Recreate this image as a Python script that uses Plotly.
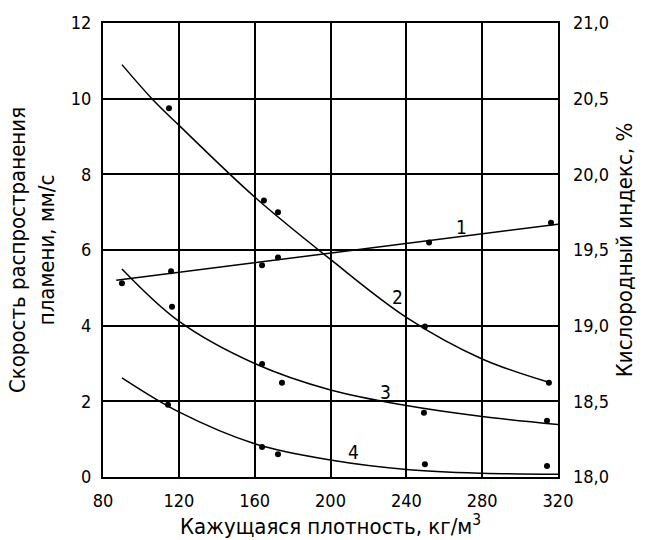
import plotly.graph_objects as go

# ---- data ----
# curve 1: oxygen index (right axis, %)
c1_pts_x = [90, 115.9, 163.9, 172.3, 252, 316.3]
c1_pts_y = [19.28, 19.36, 19.40, 19.45, 19.55, 19.68]
c1_fit_x = [87, 320]
c1_fit_y = [19.30, 19.67]

# curves 2-4: flame spread rate (left axis, mm/s)
c2_pts_x = [114.8, 164.9, 172.3, 249.8, 315.2]
c2_pts_y = [9.75, 7.31, 7.0, 3.98, 2.49]
c2_fit_x = [90, 105.8, 120, 160, 200, 240, 280, 316]
c2_fit_y = [10.9, 10.0, 9.3, 7.4, 5.75, 4.22, 3.12, 2.49]

c3_pts_x = [116.4, 163.9, 174.4, 249.3, 314.2]
c3_pts_y = [4.5, 2.99, 2.49, 1.70, 1.49]
c3_fit_x = [90, 120, 160, 200, 240, 280, 320]
c3_fit_y = [5.5, 4.12, 3.0, 2.3, 1.89, 1.6, 1.39]

c4_pts_x = [114.3, 163.9, 172.3, 249.8, 314.2]
c4_pts_y = [1.91, 0.79, 0.6, 0.34, 0.29]
c4_fit_x = [90, 120, 160, 200, 240, 280, 320]
c4_fit_y = [2.62, 1.72, 0.88, 0.45, 0.2, 0.1, 0.07]

labels = ["1", "2", "3", "4"]
label_x = [269, 235.6, 229, 212]
label_y = [6.6, 4.77, 2.25, 0.66]

x_ticks = [80, 120, 160, 200, 240, 280, 320]
y_ticks = [0, 2, 4, 6, 8, 10, 12]
y2_ticks = [18.0, 18.5, 19.0, 19.5, 20.0, 20.5, 21.0]
y2_ticktext = ["18,0", "18,5", "19,0", "19,5", "20,0", "20,5", "21,0"]

FONT = "DejaVu Sans Condensed, Liberation Sans Narrow, DejaVu Sans, sans-serif"

fig = go.Figure()
line_style = dict(color="black", width=1.5)
mark_style = dict(color="black", size=6)

# curve 1 on right axis
fig.add_trace(go.Scatter(x=c1_fit_x, y=c1_fit_y, mode="lines", line=line_style,
                         yaxis="y2", showlegend=False, hoverinfo="skip"))
fig.add_trace(go.Scatter(x=c1_pts_x, y=c1_pts_y, mode="markers", marker=mark_style,
                         yaxis="y2", showlegend=False))

for fx, fy, px, py in [(c2_fit_x, c2_fit_y, c2_pts_x, c2_pts_y),
                       (c3_fit_x, c3_fit_y, c3_pts_x, c3_pts_y),
                       (c4_fit_x, c4_fit_y, c4_pts_x, c4_pts_y)]:
    fig.add_trace(go.Scatter(x=fx, y=fy, mode="lines",
                             line=dict(color="black", width=1.5, shape="spline", smoothing=1.0),
                             showlegend=False, hoverinfo="skip"))
    fig.add_trace(go.Scatter(x=px, y=py, mode="markers", marker=mark_style, showlegend=False))

for t, lx, ly in zip(labels, label_x, label_y):
    fig.add_annotation(x=lx, y=ly, text=t, showarrow=False,
                       font=dict(family=FONT, size=19, color="black"))

fig.update_layout(
    width=647, height=540,
    margin=dict(l=103, r=89, t=19, b=63),
    paper_bgcolor="white", plot_bgcolor="white",
    font=dict(family=FONT, color="black"),
    xaxis=dict(range=[80, 320], tickvals=x_ticks, showgrid=True, gridcolor="black", gridwidth=2,
               showline=True, linecolor="black", linewidth=2, mirror=True, zeroline=False,
               ticks="", ticklabelstandoff=6, tickfont=dict(size=18),
               title=dict(text="Кажущаяся плотность, кг/м<sup>3</sup>", font=dict(size=22), standoff=2)),
    yaxis=dict(range=[0, 12], tickvals=y_ticks, showgrid=True, gridcolor="black", gridwidth=2,
               showline=True, linecolor="black", linewidth=2, mirror=True, zeroline=False,
               ticks="", ticklabelstandoff=6, tickfont=dict(size=18),
               title=dict(text="Скорость распространения<br>пламени, мм/с", font=dict(size=22), standoff=10)),
    yaxis2=dict(range=[18, 21], tickvals=y2_ticks, ticktext=y2_ticktext, overlaying="y", side="right",
                showgrid=False, zeroline=False, showline=False, ticks="", ticklabelstandoff=14,
                tickfont=dict(size=18),
                title=dict(text="Кислородный индекс, %", font=dict(size=22), standoff=8)),
)

fig.write_html("out.html")
